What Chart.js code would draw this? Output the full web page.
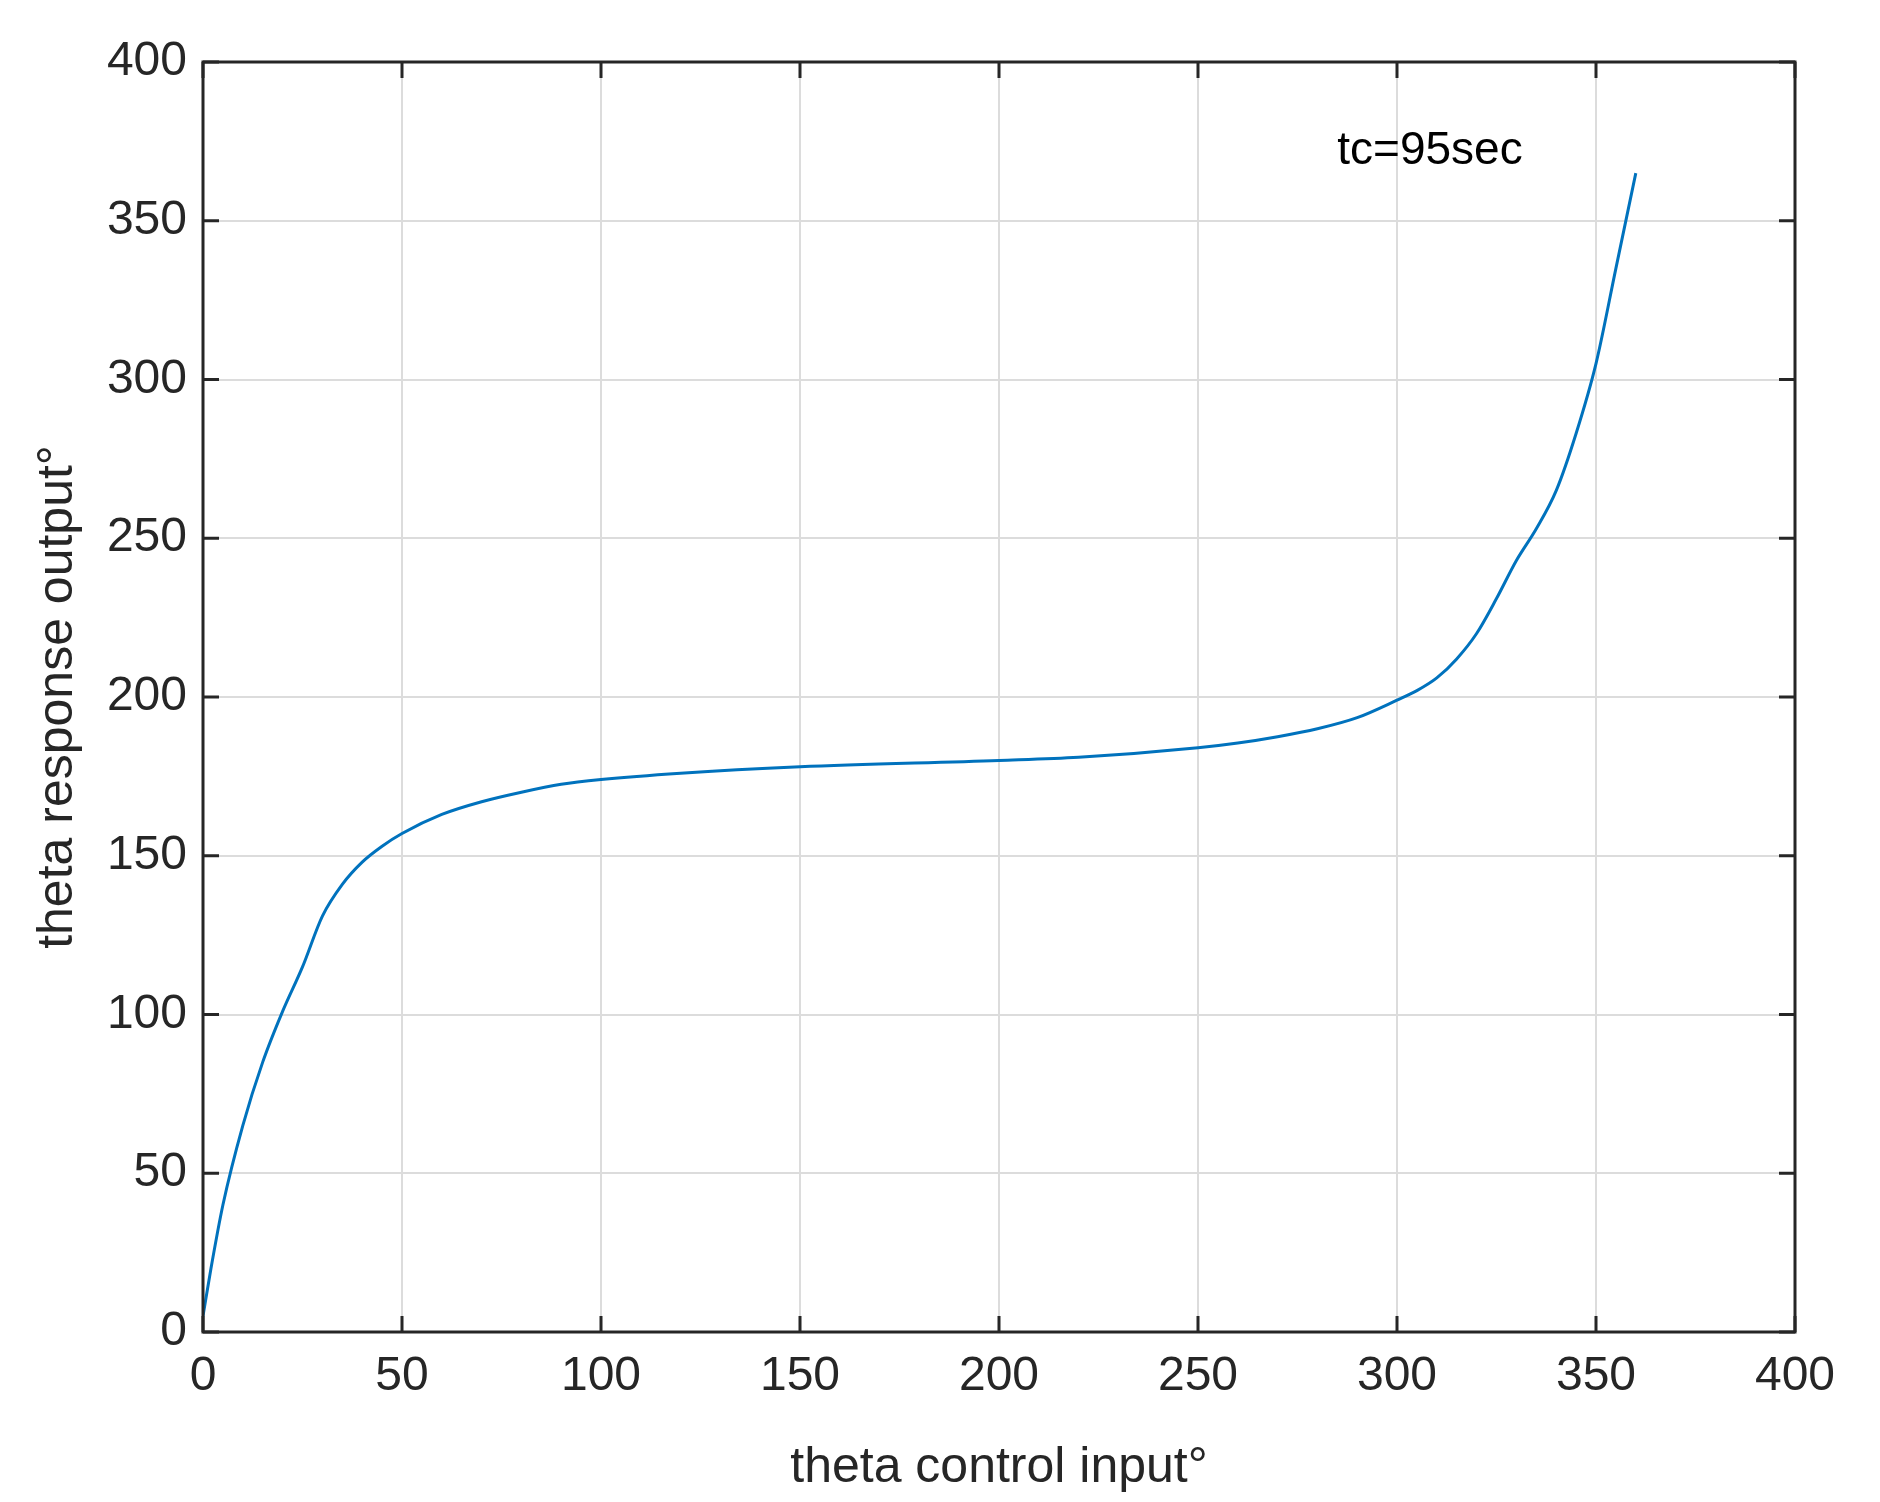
<!DOCTYPE html>
<html><head><meta charset="utf-8">
<script src="https://cdn.jsdelivr.net/npm/chart.js@4"></script>
<style>html,body{margin:0;background:#fff}</style></head>
<body><canvas id="c" width="1880" height="1502"></canvas>
<script>
const xVals=[0,2,5,10,15,20,25,30,35,40,45,50,60,70,80,90,100,120,150,200,220,250,260,270,280,290,300,305,310,315,320,325,330,335,340,345,350,355,360];
const yVals=[5,20,40,65,85,101,115,131,141,148,153,157,163,167,170,172.5,174,176,178,180,181,184,185.5,187.5,190,193.5,199,202,206,212,220,231,243,253,265,283,305,335,365];
const ticks=[0,50,100,150,200,250,300,350,400];
const annotation={text:'tc=95sec',x:285,y:372};
const F='"Liberation Sans", Arial, sans-serif';
const frame={id:'frame',afterDraw(ch){const c=ch.ctx,a=ch.chartArea,xs=ch.scales.x,ys=ch.scales.y;
c.save();c.strokeStyle='#262626';c.lineWidth=3;c.strokeRect(a.left,a.top,a.right-a.left,a.bottom-a.top);
c.beginPath();
ticks.forEach(t=>{const px=xs.getPixelForValue(t);c.moveTo(px,a.bottom);c.lineTo(px,a.bottom-16);c.moveTo(px,a.top);c.lineTo(px,a.top+16);
const py=ys.getPixelForValue(t);c.moveTo(a.left,py);c.lineTo(a.left+16,py);c.moveTo(a.right,py);c.lineTo(a.right-16,py);});
c.stroke();
c.fillStyle='#000';c.font='46px '+F;c.textBaseline='middle';c.textAlign='left';
c.fillText(annotation.text,xs.getPixelForValue(annotation.x),ys.getPixelForValue(annotation.y));c.restore();}};
new Chart(document.getElementById('c'),{type:'line',
data:{datasets:[{data:xVals.map((x,i)=>({x,y:yVals[i]})),borderColor:'#0072BD',borderWidth:3,pointRadius:0,cubicInterpolationMode:'monotone'}]},
options:{responsive:false,animation:false,layout:{padding:{top:62,right:85,left:0,bottom:0}},
plugins:{legend:{display:false},tooltip:{enabled:false}},
scales:{x:{type:'linear',min:0,max:400,afterBuildTicks:s=>{s.ticks=ticks.map(v=>({value:v}))},
afterFit:s=>{s.height=170},
grid:{color:'#dcdcdc',lineWidth:2,drawTicks:false},border:{display:false},
ticks:{color:'#262626',font:{family:F,size:48},padding:16,maxRotation:0},
title:{display:true,text:'theta control input°',color:'#262626',font:{family:F,size:50},padding:{top:4}}},
y:{type:'linear',min:0,max:400,afterBuildTicks:s=>{s.ticks=ticks.map(v=>({value:v}))},
afterFit:s=>{s.width=203},
grid:{color:'#dcdcdc',lineWidth:2,drawTicks:false},border:{display:false},
ticks:{color:'#262626',font:{family:F,size:48},padding:16},
title:{display:true,text:'theta response output°',color:'#262626',font:{family:F,size:50},padding:{top:28,bottom:0}}}}},
plugins:[frame]});
</script></body></html>
